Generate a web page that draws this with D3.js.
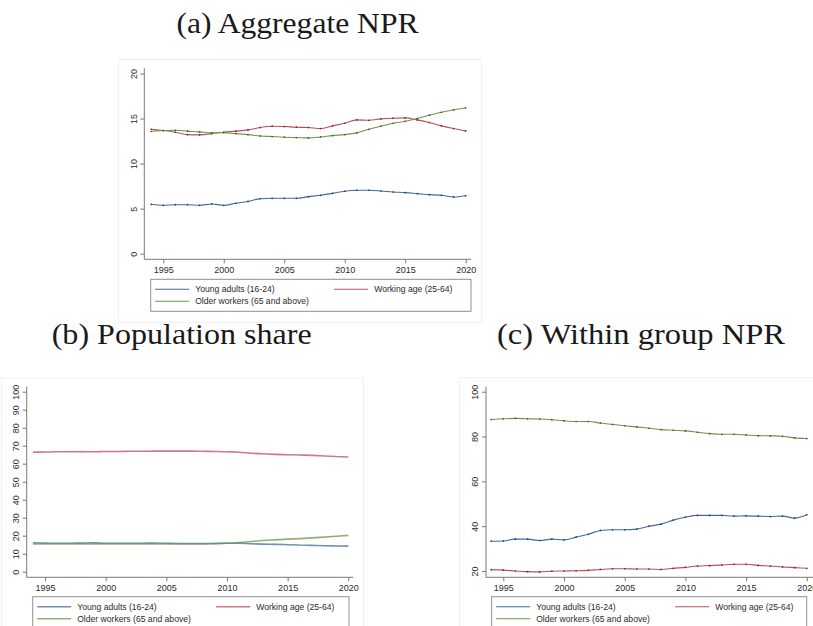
<!DOCTYPE html>
<meta charset="utf-8">
<body style="margin:0;background:#fff">
    <div id="chart"></div>
</body>
<script src="https://d3js.org/d3.v7.min.js"></script>
<style>
    body { margin: 0; }
    .tick text { font-family: "Liberation Sans", Arial, sans-serif; font-size: 9px; fill: #2a2a2a; }
    .tick line { stroke: #777; }
    .title { font-family: "Liberation Serif", "DejaVu Serif", serif; fill: #1a1a1a; }
    .legend text { font-family: "Liberation Sans", Arial, sans-serif; font-size: 8.6px; fill: #2a2a2a; }
</style>
<script>

    // years shown on every panel
    var years = d3.range(1994, 2021);

    var seriesNames = ["Young adults (16-24)", "Working age (25-64)", "Older workers (65 and above)"];

    // (a) Aggregate NPR
    var aggYoung = [5.48, 5.37, 5.44, 5.44, 5.37, 5.52, 5.37, 5.6, 5.8, 6.1, 6.15, 6.15, 6.15, 6.33, 6.48, 6.7, 6.93, 7.04, 7.04, 6.96, 6.85, 6.78, 6.67, 6.56, 6.48, 6.3, 6.44];
    var aggWorking = [13.8, 13.67, 13.48, 13.22, 13.19, 13.33, 13.48, 13.6, 13.74, 14.0, 14.15, 14.11, 14.04, 14.0, 13.89, 14.19, 14.48, 14.85, 14.81, 14.96, 15.04, 15.07, 14.85, 14.56, 14.19, 13.89, 13.63];
    var aggOlder = [13.56, 13.67, 13.7, 13.6, 13.52, 13.41, 13.44, 13.33, 13.22, 13.07, 13.0, 12.93, 12.89, 12.85, 12.96, 13.11, 13.22, 13.41, 13.81, 14.15, 14.48, 14.7, 15.0, 15.37, 15.7, 15.96, 16.19];

    // (b) Population share
    var shareYoung = [16.1, 15.9, 15.8, 15.8, 15.9, 16.0, 15.8, 15.8, 15.8, 15.8, 15.9, 15.8, 15.7, 15.7, 15.7, 15.7, 15.8, 15.8, 15.5, 15.3, 15.2, 15.0, 14.8, 14.6, 14.4, 14.3, 14.2];
    var shareWorking = [66.4, 66.5, 66.6, 66.6, 66.7, 66.6, 66.8, 66.8, 66.9, 66.9, 67.0, 67.0, 67.0, 67.0, 66.9, 66.8, 66.6, 66.4, 65.8, 65.5, 65.2, 65.0, 64.8, 64.6, 64.3, 64.0, 63.7];
    var shareOlder = [15.4, 15.4, 15.4, 15.4, 15.4, 15.4, 15.4, 15.4, 15.4, 15.4, 15.4, 15.4, 15.4, 15.4, 15.4, 15.6, 15.8, 16.2, 16.8, 17.3, 17.7, 18.1, 18.4, 18.8, 19.2, 19.7, 20.2];

    // (c) Within group NPR
    var withinYoung = [33.3, 33.4, 34.2, 34.2, 33.6, 34.2, 33.9, 35.1, 36.4, 38.1, 38.4, 38.4, 38.7, 40.0, 40.9, 42.7, 44.0, 44.8, 44.8, 44.8, 44.5, 44.6, 44.5, 44.3, 44.5, 43.6, 45.1];
    var withinWorking = [20.6, 20.4, 20.0, 19.7, 19.6, 19.9, 20.0, 20.1, 20.3, 20.7, 21.0, 21.0, 20.9, 20.9, 20.7, 21.2, 21.6, 22.2, 22.4, 22.7, 23.0, 23.0, 22.5, 22.2, 21.8, 21.5, 21.2];
    var withinOlder = [87.6, 87.9, 88.1, 87.9, 87.8, 87.5, 87.0, 86.7, 86.7, 86.0, 85.4, 84.8, 84.3, 83.7, 83.1, 82.8, 82.5, 81.9, 81.3, 81.0, 81.0, 80.7, 80.4, 80.3, 80.1, 79.4, 79.1];

    // tick labels
    var xTicks = [1995, 2000, 2005, 2010, 2015, 2020];
    var aggTicks = [0, 5, 10, 15, 20];
    var shareTicks = [0, 10, 20, 30, 40, 50, 60, 70, 80, 90, 100];
    var withinTicks = [20, 40, 60, 80, 100];

    var lineColors = ["#46699a", "#bf4e5a", "#6f954b"];
    var dotColors = ["#22395c", "#72222b", "#3d5c24"];

    var svg = d3.select("#chart")
        .append("svg")
            .attr("width", 813)
            .attr("height", 626);

    function drawPanel(p) {
        var g = svg.append("g");

        // faint graph region outline
        g.append("rect")
            .attr("x", p.frame[0]).attr("y", p.frame[1])
            .attr("width", p.frame[2]).attr("height", p.frame[3])
            .attr("fill", "none").attr("stroke", "#f1f1f1");

        g.append("text")
            .attr("class", "title")
            .attr("x", p.titleX).attr("y", p.titleY)
            .attr("text-anchor", "middle")
            .attr("font-size", 30)
            .attr("textLength", p.titleW)
            .attr("lengthAdjust", "spacingAndGlyphs")
            .text(p.title);

        var x = d3.scaleLinear().domain([1995, 2020]).range(p.xr);
        var y = d3.scaleLinear().domain(p.yd).range(p.yr);

        // axis lines
        g.append("line")
            .attr("x1", p.ax).attr("x2", p.ax)
            .attr("y1", p.axTop).attr("y2", p.ay)
            .attr("stroke", "#7a7a7a");
        g.append("line")
            .attr("x1", p.ax).attr("x2", p.axRight)
            .attr("y1", p.ay).attr("y2", p.ay)
            .attr("stroke", "#7a7a7a");

        var yAxis = g.append("g")
            .attr("transform", "translate(" + p.ax + ",0)")
            .call(d3.axisLeft(y).tickValues(p.yTicks).tickSize(4).tickSizeOuter(0).tickFormat(d3.format("d")));
        yAxis.select(".domain").remove();
        yAxis.selectAll(".tick text")
            .attr("transform", "rotate(-90)")
            .attr("x", 0)
            .attr("y", -7.6)
            .attr("dy", 0)
            .attr("text-anchor", "middle");

        var xAxis = g.append("g")
            .attr("transform", "translate(0," + p.ay + ")")
            .call(d3.axisBottom(x).tickValues(xTicks).tickSize(4).tickSizeOuter(0).tickPadding(3.4).tickFormat(d3.format("d")));
        xAxis.select(".domain").remove();

        var line = d3.line()
            .x(function(d, i) { return x(years[i]); })
            .y(function(d) { return y(d); })
            .curve(d3.curveMonotoneX);

        p.series.forEach(function(s, k) {
            g.append("path")
                .datum(s)
                .attr("fill", "none")
                .attr("stroke", lineColors[k])
                .attr("stroke-width", p.lw)
                .attr("stroke-opacity", p.lo)
                .attr("d", line);
            if (p.dots) {
                g.append("g").selectAll("circle")
                    .data(s)
                    .enter().append("circle")
                        .attr("cx", function(d, i) { return x(years[i]); })
                        .attr("cy", function(d) { return y(d); })
                        .attr("r", 0.85)
                        .attr("fill", dotColors[k]);
            }
        });

        // legend
        var lg = g.append("g").attr("class", "legend");
        lg.append("rect")
            .attr("x", p.leg[0]).attr("y", p.leg[1])
            .attr("width", p.leg[2]).attr("height", 32)
            .attr("fill", "#fff").attr("stroke", "#8f8f8f");
        var spots = [
            [p.leg[0] + 4.5, p.leg[1] + 10],
            [p.leg[0] + 183.5, p.leg[1] + 10],
            [p.leg[0] + 4.5, p.leg[1] + 22]
        ];
        seriesNames.forEach(function(name, k) {
            lg.append("line")
                .attr("x1", spots[k][0]).attr("x2", spots[k][0] + 34)
                .attr("y1", spots[k][1]).attr("y2", spots[k][1])
                .attr("stroke", lineColors[k])
                .attr("stroke-width", p.lw)
                .attr("stroke-opacity", p.lo);
            lg.append("text")
                .attr("x", spots[k][0] + 40)
                .attr("y", spots[k][1] + 3)
                .text(name);
        });
    }

    drawPanel({
        title: "(a) Aggregate NPR", titleX: 297.5, titleY: 33, titleW: 242,
        frame: [118.5, 59.5, 363, 263],
        xr: [163.3, 465.7], yd: [0, 20], yr: [253.7, 73.5],
        ax: 144.3, ay: 259.3, axTop: 68.3, axRight: 471,
        yTicks: aggTicks,
        series: [aggYoung, aggWorking, aggOlder],
        dots: true, lw: 1.1, lo: 1,
        leg: [150.7, 279.3, 320.3]
    });

    drawPanel({
        title: "(b) Population share", titleX: 181.7, titleY: 343.5, titleW: 260,
        frame: [1.5, 378, 362, 260],
        xr: [45, 348.3], yd: [0, 100], yr: [571.7, 391.7],
        ax: 26.7, ay: 577.3, axTop: 386.7, axRight: 353,
        yTicks: shareTicks,
        series: [shareYoung, shareWorking, shareOlder],
        dots: false, lw: 1.6, lo: 0.75,
        leg: [32.7, 596.7, 316.3]
    });

    drawPanel({
        title: "(c) Within group NPR", titleX: 641, titleY: 344, titleW: 288,
        frame: [459.5, 377.7, 400, 260],
        xr: [503.3, 806.8], yd: [20, 100], yr: [571, 391.7],
        ax: 486, ay: 577.3, axTop: 386.7, axRight: 820,
        yTicks: withinTicks,
        series: [withinYoung, withinWorking, withinOlder],
        dots: true, lw: 1.1, lo: 1,
        leg: [491.7, 596.7, 315]
    });

</script>
